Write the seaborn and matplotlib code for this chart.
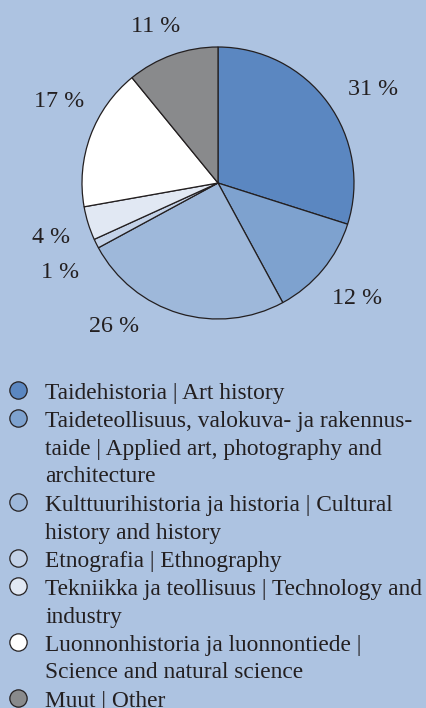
import matplotlib
matplotlib.use("Agg")
import numpy as np
import matplotlib.pyplot as plt
import seaborn as sns

# --- Data ---
categories = [
    "Taidehistoria | Art history",
    "Taideteollisuus, valokuva- ja rakennus-\ntaide | Applied art, photography and\narchitecture",
    "Kulttuurihistoria ja historia | Cultural\nhistory and history",
    "Etnografia | Ethnography",
    "Tekniikka ja teollisuus | Technology and\nindustry",
    "Luonnonhistoria ja luonnontiede |\nScience and natural science",
    "Muut | Other",
]
shares = [29.9, 12.2, 25.0, 1.1, 4.0, 16.9, 10.9]
pct_labels = ["31 %", "12 %", "26 %", "1 %", "4 %", "17 %", "11 %"]
colors = ["#5b87c1", "#7ea2cf", "#9eb8da", "#c3d2e8", "#e1e8f3", "#ffffff", "#898a8c"]

# label placement tweaks (clockwise shift in degrees, distance in radii)
label_shift = [4.4, -0.5, 19.8, -2.6, -0.2, 7.3, -2.0]
label_dist = [1.34, 1.32, 1.29, 1.33, 1.29, 1.32, 1.25]

BG = "#adc3e1"
EDGE = "#231f20"
FS = 16.8

sns.set_theme(style="white", rc={"figure.facecolor": BG, "axes.facecolor": BG})
plt.rcParams["font.family"] = ["Liberation Serif", "DejaVu Serif"]
palette = sns.color_palette(colors)

W, H = 426, 708
fig = plt.figure(figsize=(W / 100, H / 100), dpi=100)
ax = fig.add_axes([0, 0, 1, 1])

# --- Pie ---
cx, cy, r = 218, H - 183, 136
wedges, _ = ax.pie(
    shares, colors=palette, startangle=90, counterclock=False,
    center=(cx, cy), radius=r,
    wedgeprops=dict(edgecolor=EDGE, linewidth=0.9),
)
for w, lab, sh, d in zip(wedges, pct_labels, label_shift, label_dist):
    ang = np.deg2rad((w.theta1 + w.theta2) / 2 - sh)
    ax.text(cx + d * r * np.cos(ang), cy + d * r * np.sin(ang) - 2, lab,
            fontsize=17.3, color=EDGE, ha="center", va="center")

ax.set_xlim(0, W)
ax.set_ylim(0, H)
ax.axis("off")

# --- Legend (drawn by hand) ---
line_h = 28
y = H - 393
for cat, col in zip(categories, palette):
    ax.scatter([18], [y + 3], s=155, color=col, edgecolor=EDGE, linewidth=0.9, zorder=3)
    for i, line in enumerate(cat.split("\n")):
        ax.text(45, y - i * line_h, line, fontsize=FS, color=EDGE, va="center", ha="left")
    y -= line_h * len(cat.split("\n"))

fig.savefig("out.png", dpi=100, facecolor=BG)
